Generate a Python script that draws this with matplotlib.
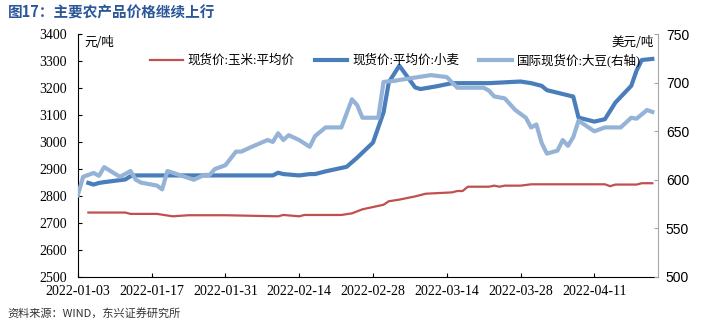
import matplotlib
matplotlib.use('Agg')
import matplotlib.pyplot as plt
import matplotlib.dates as mdates
import pandas as pd

# 现货价:玉米:平均价 (元/吨)
corn_dates = ['2022-01-05', '2022-01-12', '2022-01-13', '2022-01-18', '2022-01-21', '2022-01-24',
              '2022-01-31', '2022-02-10', '2022-02-11', '2022-02-14', '2022-02-15', '2022-02-22',
              '2022-02-24', '2022-02-26', '2022-03-02', '2022-03-03', '2022-03-05', '2022-03-08',
              '2022-03-10', '2022-03-15', '2022-03-16', '2022-03-17', '2022-03-18', '2022-03-22',
              '2022-03-23', '2022-03-24', '2022-03-25', '2022-03-28', '2022-03-30', '2022-04-13',
              '2022-04-14', '2022-04-15', '2022-04-19', '2022-04-20', '2022-04-22']
corn_vals = [2738, 2738, 2733, 2733, 2724, 2728, 2728, 2724, 2729, 2724, 2729, 2729,
             2735, 2750, 2767, 2780, 2786, 2798, 2808, 2813, 2818, 2818, 2834, 2834,
             2838, 2834, 2838, 2838, 2843, 2843, 2836, 2842, 2842, 2847, 2847]

# 现货价:平均价:小麦 (元/吨)
wheat_dates = ['2022-01-05', '2022-01-06', '2022-01-07', '2022-01-08', '2022-01-12', '2022-01-13',
               '2022-01-14', '2022-02-09', '2022-02-10', '2022-02-11', '2022-02-14', '2022-02-16',
               '2022-02-17', '2022-02-19', '2022-02-23', '2022-02-25', '2022-02-28', '2022-03-01',
               '2022-03-02', '2022-03-03', '2022-03-05', '2022-03-08', '2022-03-09', '2022-03-12',
               '2022-03-15', '2022-03-22', '2022-03-28', '2022-03-30', '2022-04-01', '2022-04-02',
               '2022-04-07', '2022-04-08', '2022-04-11', '2022-04-13', '2022-04-15', '2022-04-18',
               '2022-04-19', '2022-04-20', '2022-04-22']
wheat_vals = [2848, 2842, 2848, 2851, 2861, 2873, 2876, 2876, 2886, 2881, 2876, 2881,
              2881, 2891, 2908, 2942, 2998, 3054, 3110, 3222, 3284, 3203, 3197, 3207,
              3219, 3219, 3225, 3219, 3209, 3193, 3169, 3091, 3076, 3085, 3147, 3209,
              3265, 3305, 3309]

# 国际现货价:大豆 (美元/吨, 右轴)
soy_dates = ['2022-01-03', '2022-01-04', '2022-01-06', '2022-01-07', '2022-01-08', '2022-01-11',
             '2022-01-13', '2022-01-14', '2022-01-15', '2022-01-18', '2022-01-19', '2022-01-20',
             '2022-01-25', '2022-01-27', '2022-01-28', '2022-01-29', '2022-01-31', '2022-02-02',
             '2022-02-03', '2022-02-05', '2022-02-08', '2022-02-09', '2022-02-10', '2022-02-11',
             '2022-02-12', '2022-02-14', '2022-02-16', '2022-02-17', '2022-02-19', '2022-02-22',
             '2022-02-24', '2022-02-25', '2022-02-26', '2022-03-01', '2022-03-02', '2022-03-04',
             '2022-03-05', '2022-03-11', '2022-03-14', '2022-03-16', '2022-03-21', '2022-03-22',
             '2022-03-23', '2022-03-25', '2022-03-27', '2022-03-29', '2022-03-30', '2022-03-31',
             '2022-04-01', '2022-04-02', '2022-04-04', '2022-04-05', '2022-04-06', '2022-04-07',
             '2022-04-08', '2022-04-11', '2022-04-13', '2022-04-16', '2022-04-18', '2022-04-19',
             '2022-04-21', '2022-04-22']
soy_vals = [584, 603, 607, 604, 613, 603, 609, 600, 597, 594, 590, 609,
            600, 605, 605, 611, 615, 629, 629, 634, 641, 639, 648, 641,
            646, 641, 634, 645, 654, 654, 683, 677, 664, 664, 701, 702,
            703, 708, 706, 695, 695, 692, 686, 684, 672, 664, 654, 657,
            638, 627, 630, 641, 635, 644, 661, 650, 654, 654, 664, 663,
            672, 670]

tick_dates = ['2022-01-03', '2022-01-17', '2022-01-31', '2022-02-14',
              '2022-02-28', '2022-03-14', '2022-03-28', '2022-04-11']

serif = ['Liberation Serif', 'Noto Sans CJK SC']
cjk = ['Noto Sans CJK SC', 'DejaVu Sans']
plt.rcParams['font.family'] = cjk

fig = plt.figure(figsize=(7.14, 3.25), dpi=100)
ax = fig.add_axes([0.109, 0.149, 0.812, 0.745])
ax2 = ax.twinx()

l1, = ax.plot(pd.to_datetime(corn_dates), corn_vals, color='#C0504D', lw=1.6)
l2, = ax.plot(pd.to_datetime(wheat_dates), wheat_vals, color='#4A7EBB', lw=3)
l3, = ax2.plot(pd.to_datetime(soy_dates), soy_vals, color='#95B3D7', lw=3)

ax.set_xlim(pd.Timestamp('2022-01-03'), pd.Timestamp('2022-04-23'))
ax.set_ylim(2500, 3400)
ax.set_yticks(range(2500, 3401, 100))
ax2.set_ylim(500, 750)
ax2.set_yticks(range(500, 751, 50))

ax.set_xticks(pd.to_datetime(tick_dates))
ax.xaxis.set_major_formatter(mdates.DateFormatter('%Y-%m-%d'))

ax.tick_params(axis='x', direction='in', length=3, pad=6, labelsize=10)
ax.tick_params(axis='y', direction='in', length=3, pad=8, labelsize=10)
ax2.tick_params(axis='y', direction='in', length=3, pad=6, labelsize=10, color='#A6A6A6')
for lab in ax.get_xticklabels() + ax.get_yticklabels():
    lab.set_family(serif)
for lab in ax2.get_yticklabels():
    lab.set_family(['Liberation Sans'])

for a in (ax, ax2):
    a.spines['top'].set_visible(False)
ax.spines['right'].set_visible(False)
ax2.spines['left'].set_visible(False)
ax2.spines['bottom'].set_visible(False)
ax2.spines['right'].set_color('#A6A6A6')

ax.text(0.012, 0.968, '元/吨', transform=ax.transAxes, fontsize=9, va='center', ha='left')
ax2.text(0.993, 0.968, '美元/吨', transform=ax.transAxes, fontsize=9, va='center', ha='right')

ax2.legend([l1, l2, l3], ['现货价:玉米:平均价', '现货价:平均价:小麦', '国际现货价:大豆(右轴)'],
           loc='center', bbox_to_anchor=(0.548, 0.894), ncol=3, frameon=False,
           prop={'family': serif, 'size': 9}, handlelength=2.6, handletextpad=0.4,
           columnspacing=1.6)

fig.text(0.011, 0.963, '图17：主要农产品价格继续上行', fontsize=10.5, fontweight='bold',
         color='#2B579A', va='center', ha='left')
fig.text(0.011, 0.037, '资料来源：WIND，东兴证券研究所', fontsize=8, style='italic',
         color='#333333', va='center', ha='left')

fig.savefig('out.png', dpi=100)
